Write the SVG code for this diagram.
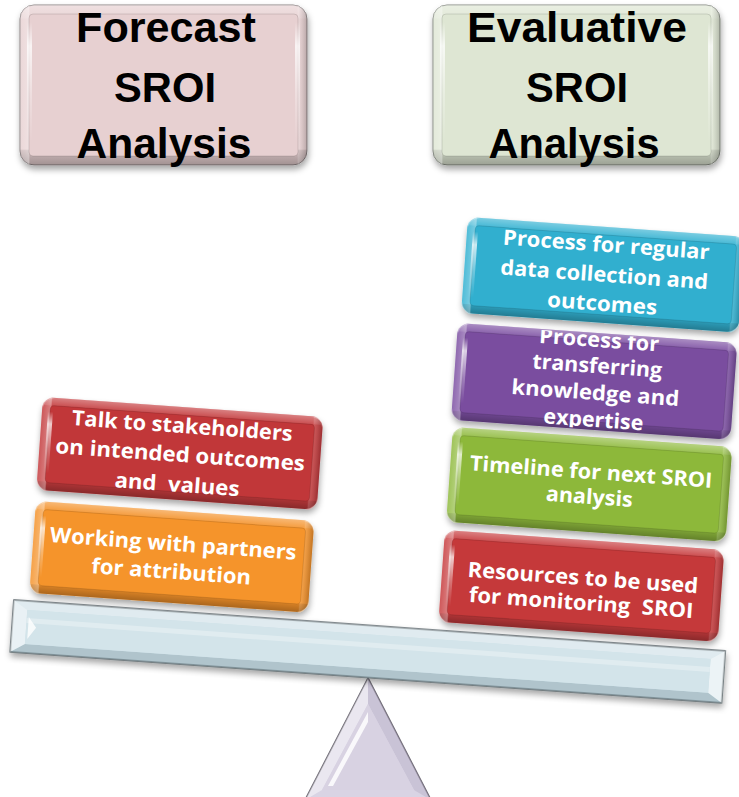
<svg xmlns="http://www.w3.org/2000/svg" width="739" height="797" viewBox="0 0 739 797">
<style>
.t{font-family:"Open Sans",Lato,"Liberation Sans",sans-serif;font-weight:bold;font-size:21px;fill:#fff;text-anchor:middle}
.h{font-family:"Liberation Sans",Arial,sans-serif;font-weight:bold;font-size:43px;fill:#000;text-anchor:middle}
.ov{fill:url(#vg)}
.oh{fill:url(#hg)}
.face{stroke:rgba(0,0,0,0.12);stroke-width:1}
.hl{fill:url(#hl)}
</style>
<defs>
<filter id="sh" x="-10%" y="-10%" width="120%" height="130%">
<feDropShadow dx="1" dy="4" stdDeviation="3" flood-color="#000" flood-opacity="0.35"/>
</filter>
<linearGradient id="vg" x1="0" y1="0" x2="0" y2="1">
<stop offset="0" stop-color="#fff" stop-opacity="0.35"/>
<stop offset="0.08" stop-color="#fff" stop-opacity="0.12"/>
<stop offset="0.09" stop-color="#fff" stop-opacity="0"/>
<stop offset="0.9" stop-color="#000" stop-opacity="0"/>
<stop offset="0.91" stop-color="#000" stop-opacity="0.12"/>
<stop offset="1" stop-color="#000" stop-opacity="0.3"/>
</linearGradient>
<linearGradient id="hg" x1="0" y1="0" x2="1" y2="0">
<stop offset="0" stop-color="#fff" stop-opacity="0.15"/>
<stop offset="0.03" stop-color="#fff" stop-opacity="0.35"/>
<stop offset="0.035" stop-color="#fff" stop-opacity="0"/>
<stop offset="0.965" stop-color="#fff" stop-opacity="0"/>
<stop offset="0.97" stop-color="#fff" stop-opacity="0.15"/>
<stop offset="1" stop-color="#000" stop-opacity="0.2"/>
</linearGradient>
<linearGradient id="hl" x1="0" y1="0" x2="0" y2="1">
<stop offset="0" stop-color="#fff" stop-opacity="0"/>
<stop offset="0.2" stop-color="#fff" stop-opacity="0.75"/>
<stop offset="0.6" stop-color="#fff" stop-opacity="0.3"/>
<stop offset="1" stop-color="#fff" stop-opacity="0"/>
</linearGradient>
<clipPath id="pclip"><rect x="0" y="1" width="280" height="95"/></clipPath>
</defs>

<!-- Title boxes -->
<g id="forecast">
<rect x="20" y="5" width="287" height="160" rx="14" fill="#e7d0d1" stroke="#8d8485" stroke-width="1" filter="url(#sh)"/>
<rect x="20" y="5" width="287" height="160" rx="14" class="ov"/>
<rect x="20" y="5" width="287" height="160" rx="14" class="oh"/>
<rect x="29" y="14" width="269" height="142" rx="4" fill="#e7d0d1" class="face"/>
<rect x="27" y="22" width="5" height="120" class="hl"/>
<rect x="295" y="22" width="5" height="120" class="hl"/>
<text class="h" x="166" y="42" textLength="180" lengthAdjust="spacingAndGlyphs">Forecast</text>
<text class="h" x="165" y="102" textLength="102" lengthAdjust="spacingAndGlyphs">SROI</text>
<text class="h" x="164" y="158" textLength="175" lengthAdjust="spacingAndGlyphs">Analysis</text>
</g>
<g id="evaluative">
<rect x="433" y="5" width="287" height="160" rx="14" fill="#dee6d3" stroke="#868b82" stroke-width="1" filter="url(#sh)"/>
<rect x="433" y="5" width="287" height="160" rx="14" class="ov"/>
<rect x="433" y="5" width="287" height="160" rx="14" class="oh"/>
<rect x="442" y="14" width="269" height="142" rx="4" fill="#dee6d3" class="face"/>
<rect x="440" y="22" width="5" height="120" class="hl"/>
<rect x="708" y="22" width="5" height="120" class="hl"/>
<text class="h" x="577" y="42" textLength="220" lengthAdjust="spacingAndGlyphs">Evaluative</text>
<text class="h" x="577" y="102" textLength="102" lengthAdjust="spacingAndGlyphs">SROI</text>
<text class="h" x="574" y="158" textLength="171" lengthAdjust="spacingAndGlyphs">Analysis</text>
</g>

<!-- Fulcrum -->
<g id="fulcrum">
<polygon points="368,678 305,800 431,800" fill="#d9d4e4" stroke="#6c6873" stroke-width="1.5"/>
<polygon points="368,678 305,800 322,790 368,704" fill="#fff" fill-opacity="0.45"/>
<polygon points="368,678 431,800 414,790 368,704" fill="#b9b1c8" fill-opacity="0.5"/>
<polygon points="368,704 322,790 414,790" fill="#d8d2e2"/>
<polygon points="368,712 328,786 333,786 368,722" fill="#fff" fill-opacity="0.85"/>
</g>

<!-- Beam -->
<g id="beam" transform="translate(14,600) rotate(4.1)">
<rect x="0" y="0" width="713" height="52" fill="#cfe1e8" stroke="#5e686d" stroke-width="1.5" filter="url(#sh)"/>
<polygon points="0,0 713,0 699,9 14,9" fill="#fff" fill-opacity="0.35"/>
<polygon points="0,52 713,52 699,43 14,43" fill="#8aa1ab" fill-opacity="0.45"/>
<polygon points="0,0 14,9 14,43 0,52" fill="#fff" fill-opacity="0.55"/>
<polygon points="713,0 699,9 699,43 713,52" fill="#fff" fill-opacity="0.6"/>
<rect x="14" y="9" width="685" height="34" fill="#d3e4ea"/>
<rect x="14" y="17" width="685" height="5" fill="#fff" fill-opacity="0.3"/>
<polygon points="16,16 24,26 16,38" fill="#fff" fill-opacity="0.8"/>
</g>

<!-- Left stack -->
<g id="left-talk" transform="translate(43,397) rotate(4.1)">
<rect width="281" height="93" rx="12" fill="#c43a3d" filter="url(#sh)"/>
<rect width="281" height="93" rx="12" class="ov"/>
<rect width="281" height="93" rx="12" class="oh"/>
<rect x="8" y="8" width="265" height="77" rx="4" fill="#c13739" class="face"/>
<rect x="6" y="14" width="5" height="62" class="hl"/>
<text class="t" x="141" y="26" textLength="221" lengthAdjust="spacingAndGlyphs">Talk to stakeholders</text>
<text class="t" x="141" y="55" textLength="250" lengthAdjust="spacingAndGlyphs">on intended outcomes</text>
<text class="t" x="140" y="85" textLength="125" lengthAdjust="spacingAndGlyphs" xml:space="preserve">and  values</text>
</g>
<g id="left-partners" transform="translate(36,501) rotate(4.1)">
<rect width="279" height="92" rx="12" fill="#f4922a" filter="url(#sh)"/>
<rect width="279" height="92" rx="12" class="ov"/>
<rect width="279" height="92" rx="12" class="oh"/>
<rect x="8" y="8" width="263" height="76" rx="4" fill="#f5942b" class="face"/>
<rect x="6" y="14" width="5" height="62" class="hl"/>
<text class="t" x="140" y="40" textLength="247" lengthAdjust="spacingAndGlyphs">Working with partners</text>
<text class="t" x="140" y="68" textLength="160" lengthAdjust="spacingAndGlyphs">for attribution</text>
</g>

<!-- Right stack -->
<g id="right-transfer" transform="translate(458,323) rotate(4.1)">
<rect width="280" height="97" rx="12" fill="#7b4fa2" filter="url(#sh)"/>
<rect width="280" height="97" rx="12" class="ov"/>
<rect width="280" height="97" rx="12" class="oh"/>
<rect x="8" y="8" width="264" height="81" rx="4" fill="#7a4d9f" class="face"/>
<rect x="6" y="14" width="5" height="66" class="hl"/>
<g clip-path="url(#pclip)">
<text class="t" x="142" y="14" textLength="120" lengthAdjust="spacingAndGlyphs">Process for</text>
<text class="t" x="142" y="40" textLength="130" lengthAdjust="spacingAndGlyphs">transferring</text>
<text class="t" x="142" y="67" textLength="168" lengthAdjust="spacingAndGlyphs">knowledge and</text>
<text class="t" x="142" y="94" textLength="100" lengthAdjust="spacingAndGlyphs">expertise</text>
</g>
</g>
<g id="right-data" transform="translate(468,217) rotate(4.1)">
<rect width="278" height="96" rx="12" fill="#32b1d1" filter="url(#sh)"/>
<rect width="278" height="96" rx="12" class="ov"/>
<rect width="278" height="96" rx="12" class="oh"/>
<rect x="8" y="8" width="262" height="80" rx="4" fill="#31afcf" class="face"/>
<rect x="6" y="14" width="5" height="66" class="hl"/>
<text class="t" x="140" y="25" textLength="207" lengthAdjust="spacingAndGlyphs">Process for regular</text>
<text class="t" x="140" y="55" textLength="208" lengthAdjust="spacingAndGlyphs">data collection and</text>
<text class="t" x="140" y="84" textLength="110" lengthAdjust="spacingAndGlyphs">outcomes</text>
</g>
<g id="right-timeline" transform="translate(453,427) rotate(4.1)">
<rect width="280" height="95" rx="12" fill="#8fba3c" filter="url(#sh)"/>
<rect width="280" height="95" rx="12" class="ov"/>
<rect width="280" height="95" rx="12" class="oh"/>
<rect x="8" y="8" width="264" height="79" rx="4" fill="#8db83a" class="face"/>
<rect x="6" y="14" width="5" height="64" class="hl"/>
<text class="t" x="141" y="42" textLength="243" lengthAdjust="spacingAndGlyphs">Timeline for next SROI</text>
<text class="t" x="141" y="67" textLength="87" lengthAdjust="spacingAndGlyphs">analysis</text>
</g>
<g id="right-resources" transform="translate(445,530) rotate(4.1)">
<rect width="280" height="92" rx="12" fill="#c73b3c" filter="url(#sh)"/>
<rect width="280" height="92" rx="12" class="ov"/>
<rect width="280" height="92" rx="12" class="oh"/>
<rect x="8" y="8" width="264" height="76" rx="4" fill="#c5393a" class="face"/>
<rect x="6" y="14" width="5" height="62" class="hl"/>
<text class="t" x="141" y="45" textLength="231" lengthAdjust="spacingAndGlyphs">Resources to be used</text>
<text class="t" x="141" y="70" textLength="225" lengthAdjust="spacingAndGlyphs" xml:space="preserve">for monitoring  SROI</text>
</g>
<g id="connectors"/>
</svg>
